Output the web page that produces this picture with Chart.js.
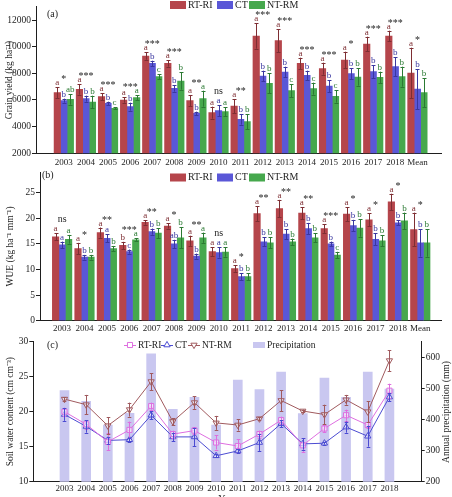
<!DOCTYPE html>
<html><head><meta charset="utf-8">
<script src="https://cdn.jsdelivr.net/npm/chart.js@4.4.1/dist/chart.umd.min.js"></script>
<style>
html,body{margin:0;padding:0;background:#fff;width:452px;height:497px;overflow:hidden}
.p{position:absolute;left:0;width:452px}
canvas{display:block}
</style></head><body>
<div class="p" style="top:0;height:170px"><canvas id="ca" width="452" height="170"></canvas></div>
<div class="p" style="top:165px;height:170px"><canvas id="cb" width="452" height="170"></canvas></div>
<div class="p" style="top:333px;height:172px"><canvas id="cc" width="452" height="172"></canvas></div>
<script>
// ---------- shared ----------
const categories = ['2003','2004','2005','2006','2007','2008','2009','2010','2011','2012','2013','2014','2015','2016','2017','2018','Mean'];
const treatments = ['RT-RI','CT','NT-RM'];
const barColors = ['#b5454b','#5a57d7','#46a84d'];
const markColors = ['#7e2e33','#3a37a0','#2b7a33'];

// ---------- (a) grain yield ----------
const yieldRT = [6550,6800,6250,6000,9300,8750,5950,5050,5550,10800,10450,8750,8350,9000,10200,10800,8025];
const yieldCT = [5950,6100,5750,5500,8750,6875,5000,5200,4550,7800,8100,7850,7050,7975,8125,8500,6825];
const yieldNT = [6050,5850,5375,6175,7750,7425,6100,5125,4375,7250,6700,6850,6275,7725,7700,7750,6550];
const yieldErrRT = [400,400,250,200,275,250,425,450,525,950,850,425,450,625,550,400,1900];
const yieldErrCT = [150,225,125,300,200,250,125,425,400,400,400,350,450,400,500,700,1500];
const yieldErrNT = [400,475,75,175,200,650,600,325,575,750,500,450,475,650,425,750,1100];
const yieldLetRT = ['a','a','a','a','a','a','a','a','a','a','a','a','a','a','a','a','a'];
const yieldLetCT = ['b','b','b','b','b','b','b','a','b','b','b','b','b','b','b','b','b'];
const yieldLetNT = ['ab','b','c','a','c','b','a','a','b','b','c','c','c','b','b','b','b'];
const yieldSig = ['*','***','***','***','***','***','**','ns','**','***','***','***','***','*','***','***','*'];
const yieldTicks = [2000,4000,6000,8000,10000,12000];

// ---------- (b) WUE ----------
const wueRT = [16.4,14.1,17.2,14.7,19.2,18.5,15.6,13.5,10.2,20.9,21.9,21.0,18.0,20.8,19.7,23.2,17.8];
const wueCT = [14.8,12.4,16.1,13.5,17.4,15.0,12.6,13.3,8.6,15.4,16.9,18.0,15.0,18.6,15.9,19.1,15.2];
const wueNT = [15.9,12.4,14.1,15.8,17.1,16.2,16.2,13.4,8.6,15.2,15.4,16.2,12.8,18.1,15.6,19.5,15.2];
const wueErrRT = [0.65,1.1,1.0,0.7,0.45,0.5,1.0,0.85,0.65,1.5,1.7,1.2,0.85,1.4,1.3,1.6,3.3];
const wueErrCT = [0.65,0.45,0.8,0.4,0.6,0.8,0.5,1.0,0.65,0.9,1.0,1.1,0.45,1.1,1.2,0.5,2.7];
const wueErrNT = [0.85,0.45,0.5,0.3,1.0,2.1,1.0,0.9,0.65,1.05,0.65,0.85,0.65,1.7,1.1,1.6,2.7];
const wueLetRT = ['a','a','a','b','a','a','a','a','a','a','a','a','a','a','a','a','a'];
const wueLetCT = ['a','b','a','c','b','ab','b','a','b','b','b','b','b','b','b','b','b'];
const wueLetNT = ['a','b','b','a','b','b','a','a','b','b','b','b','c','b','b','b','b'];
const wueSig = ['ns','*','**','***','**','*','**','ns','*','**','**','**','***','*','*','*','*'];
const wueTicks = [0,5,10,15,20,25];

// ---------- (c) soil water & precipitation ----------
const years = [2003,2004,2005,2006,2007,2008,2009,2010,2011,2012,2013,2014,2015,2016,2017,2018];
const precip = [493,458,382,420,611,433,471,382,527,496,552,419,533,471,552,498];
const swcRT = [20.0,18.2,15.7,17.4,20.8,16.8,17.3,15.6,15.1,16.8,18.8,15.2,17.6,19.5,18.1,23.0];
const swcCT = [19.6,17.9,15.9,16.0,19.5,16.4,16.4,13.7,14.4,15.6,18.3,15.4,15.5,17.8,16.5,22.1];
const swcNT = [21.8,21.0,18.0,20.3,24.3,18.6,21.3,18.4,18.1,19.0,21.6,20.1,19.6,21.7,20.0,27.3];
const swcErrRT = [0.6,0.6,1.2,1.2,0.5,0.5,0.5,1.0,1.0,0.5,0.5,1.0,0.5,0.8,0.4,1.0];
const swcErrCT = [0.9,0.9,0.5,0.3,0.6,0.6,1.3,0.2,0.3,1.2,0.5,0.8,0.2,0.8,1.5,0.6];
const swcErrNT = [0.3,1.4,1.2,1.0,1.2,0.5,0.9,1.0,0.8,0.2,1.5,0.2,1.4,0.7,1.5,1.5];
const swcTicks = [10,15,20,25,30];
const precipTicks = [200,300,400,500,600];
const lineColors = ['#de6ee0','#4b4bd2','#a05a5e'];
const precipColor = '#c9c7f0';

const SERIF = '"Liberation Serif", "Times New Roman", serif';
const INK = '#1e1e1e';

// ---------- plugin: error bars, letters, significance, legends ----------
const annot = {
  id: 'annot',
  afterDatasetsDraw(chart, args, opts) {
    const ctx = chart.ctx;
    const tops = [];
    chart.data.datasets.forEach((ds, di) => {
      if (!ds.errors) return;
      const meta = chart.getDatasetMeta(di);
      const ys = chart.scales[meta.yAxisID];
      ctx.save();
      ctx.strokeStyle = ds.errorColor; ctx.lineWidth = 1;
      const cap = ds.errorCap;
      meta.data.forEach((el, i) => {
        const raw = ds.data[i];
        const v = typeof raw === 'object' ? raw.y : raw;
        const e = ds.errors[i];
        const x = Math.round(el.x) + 0.5;
        const yt = ys.getPixelForValue(v + e), yb = ys.getPixelForValue(v - e);
        ctx.beginPath();
        ctx.moveTo(x, yt); ctx.lineTo(x, yb);
        ctx.moveTo(x - cap, Math.round(yt) + 0.5); ctx.lineTo(x + cap, Math.round(yt) + 0.5);
        ctx.moveTo(x - cap, Math.round(yb) + 0.5); ctx.lineTo(x + cap, Math.round(yb) + 0.5);
        ctx.stroke();
        if (ds.letters) {
          ctx.fillStyle = ds.errorColor;
          ctx.font = opts.letterFont; ctx.textAlign = 'center'; ctx.textBaseline = 'alphabetic';
          ctx.fillText(ds.letters[i], el.x, yt - 2);
          tops[i] = Math.min(tops[i] === undefined ? Infinity : tops[i], yt);
        }
      });
      ctx.restore();
    });
    if (opts.sig) {
      const xs = chart.scales.x;
      ctx.save(); ctx.fillStyle = INK; ctx.font = opts.sigFont;
      ctx.textAlign = 'center'; ctx.textBaseline = 'alphabetic';
      opts.sig.forEach((s, i) => {
        const x = xs.getPixelForValue(i);
        const letterTop = tops[i] - 2 - 7;
        const y = s === 'ns' ? letterTop - 2 : letterTop + 4;
        ctx.fillText(s, x, y);
      });
      ctx.restore();
    }
  },
  afterDraw(chart, args, opts) {
    const ctx = chart.ctx;
    ctx.save();
    ctx.fillStyle = INK; ctx.textBaseline = 'middle'; ctx.textAlign = 'left';
    if (opts.panel) {
      ctx.font = opts.panelFont;
      ctx.fillText(opts.panel.text, opts.panel.x, opts.panel.y);
    }
    if (opts.legend) {
      const L = opts.legend;
      ctx.font = L.font;
      L.items.forEach(it => {
        const ds = chart.data.datasets[it.dataset];
        if (it.kind === 'box') {
          ctx.fillStyle = ds.backgroundColor;
          ctx.fillRect(it.x, L.y - it.h / 2, it.w, it.h);
          ctx.fillStyle = INK;
          ctx.fillText(ds.label, it.x + it.w + 2, L.y);
        } else {
          ctx.strokeStyle = ds.borderColor; ctx.lineWidth = 1;
          ctx.beginPath(); ctx.moveTo(it.x, L.y + 0.5); ctx.lineTo(it.x + 12, L.y + 0.5); ctx.stroke();
          ctx.fillStyle = '#fff';
          Chart.helpers.drawPoint(ctx, {pointStyle: ds.pointStyle, radius: ds.pointRadius, rotation: ds.pointRotation || 0, borderWidth: 1}, it.x + 6, L.y);
          ctx.fillStyle = INK;
          ctx.fillText(ds.label, it.x + 14, L.y);
        }
      });
    }
    if (opts.rightTitle) {
      const R = opts.rightTitle;
      ctx.font = R.font; ctx.fillStyle = INK; ctx.textAlign = 'center';
      ctx.translate(R.x, R.y); ctx.rotate(-Math.PI / 2);
      ctx.fillText(R.text, 0, 0);
    }
    ctx.restore();
  }
};

const tickFont = {family: SERIF, size: 9.5};
const xTickFont = {family: SERIF, size: 9};
function yAxis(min, max, ticks, width, title, titlePad) {
  return {
    min, max,
    afterBuildTicks: s => { s.ticks = ticks.map(v => ({value: v})); },
    afterFit: s => { s.width = width; },
    ticks: {font: tickFont, color: INK, padding: 1, callback: v => String(v)},
    grid: {drawOnChartArea: false, drawTicks: true, tickLength: 4, color: INK},
    border: {display: true, color: INK},
    title: {display: true, text: title, font: {family: SERIF, size: 9.5}, color: INK, padding: {top: titlePad, bottom: 0}}
  };
}
function xCatAxis(min, max, height, pad) {
  return {
    type: 'linear', min, max,
    afterBuildTicks: s => { s.ticks = categories.map((c, i) => ({value: i})); },
    afterFit: s => { s.height = height; },
    ticks: {font: xTickFont, color: INK, padding: pad, autoSkip: false, maxRotation: 0, callback: v => categories[v]},
    grid: {display: false, drawTicks: false},
    border: {display: true, color: INK}
  };
}
function barSets(vals, errs, lets) {
  return vals.map((arr, k) => ({
    label: treatments[k],
    data: arr.map((v, i) => ({x: i, y: v})),
    backgroundColor: barColors[k],
    borderWidth: 0,
    barThickness: 6.5,
    errors: errs[k], letters: lets[k], errorColor: markColors[k], errorCap: 2
  }));
}
const barLegend = (y) => ({
  y, font: '10px ' + SERIF,
  items: [{dataset: 0, kind: 'box', x: 170, w: 16, h: 8}, {dataset: 1, kind: 'box', x: 217, w: 16, h: 8}, {dataset: 2, kind: 'box', x: 249, w: 16, h: 8}]
});

// ---------- chart (a) ----------
new Chart(document.getElementById('ca'), {
  type: 'bar',
  data: {datasets: barSets([yieldRT, yieldCT, yieldNT], [yieldErrRT, yieldErrCT, yieldErrNT], [yieldLetRT, yieldLetCT, yieldLetNT])},
  options: {
    responsive: false, animation: false, events: [],
    layout: {padding: {top: 6.7, right: 10.5, left: 0, bottom: 0}},
    scales: {
      x: xCatAxis(-0.72, 16.55, 16.7, 3.5),
      y: yAxis(2000, 13000, yieldTicks, 36, 'Grain yield (kg ha⁻¹)', 3.5)
    },
    plugins: {
      legend: {display: false}, tooltip: {enabled: false},
      annot: {letterFont: '9px ' + SERIF, sigFont: '10px ' + SERIF, sig: yieldSig,
              panel: {text: '(a)', x: 47, y: 14.5}, panelFont: '10px ' + SERIF, legend: barLegend(5)}
    }
  },
  plugins: [annot]
});

// ---------- chart (b) ----------
new Chart(document.getElementById('cb'), {
  type: 'bar',
  data: {datasets: barSets([wueRT, wueCT, wueNT], [wueErrRT, wueErrCT, wueErrNT], [wueLetRT, wueLetCT, wueLetNT])},
  options: {
    responsive: false, animation: false, events: [],
    layout: {padding: {top: 7.2, right: 10.3, left: 0, bottom: 0}},
    scales: {
      x: xCatAxis(-0.46, 16.43, 14.3, 2.6),
      y: yAxis(0, 29, wueTicks, 40, 'WUE (kg ha⁻¹ mm⁻¹)', 4.5)
    },
    plugins: {
      legend: {display: false}, tooltip: {enabled: false},
      annot: {letterFont: '9px ' + SERIF, sigFont: '10px ' + SERIF, sig: wueSig,
              panel: {text: '(b)', x: 42, y: 10}, panelFont: '10px ' + SERIF, legend: barLegend(12.5)}
    }
  },
  plugins: [annot]
});

// ---------- chart (c) ----------
const pointStyles = ['rect', 'triangle', 'triangle'];
const pointRot = [0, 0, 180];
const swcVals = [swcRT, swcCT, swcNT];
const swcErrs = [swcErrRT, swcErrCT, swcErrNT];
const lineSets = swcVals.map((arr, k) => ({
  type: 'line', label: treatments[k], yAxisID: 'y', order: 1,
  data: arr.map((v, i) => ({x: years[i], y: v})),
  borderColor: lineColors[k], borderWidth: 1,
  pointStyle: pointStyles[k], pointRotation: pointRot[k], pointRadius: 3.6,
  pointBorderColor: lineColors[k], pointBackgroundColor: 'rgba(255,255,255,0.55)', pointBorderWidth: 1,
  errors: swcErrs[k], errorColor: lineColors[k], errorCap: 1.8
}));
new Chart(document.getElementById('cc'), {
  type: 'bar',
  data: {datasets: [
    {type: 'bar', label: 'Precipitation', yAxisID: 'y1', order: 10,
     data: precip.map((v, i) => ({x: years[i], y: v})), backgroundColor: precipColor, borderWidth: 0, barThickness: 9},
    ...lineSets
  ]},
  options: {
    responsive: false, animation: false, events: [],
    layout: {padding: {top: 8.7, right: 0, left: 0, bottom: 0}},
    scales: {
      x: {
        type: 'linear', min: 2002.12, max: 2018.93,
        afterBuildTicks: s => { s.ticks = years.map(v => ({value: v})); },
        afterFit: s => { s.height = 172 - 148.7; },
        ticks: {font: xTickFont, color: INK, padding: 1.5, autoSkip: false, maxRotation: 0, callback: v => String(v)},
        grid: {display: false, drawTicks: false},
        border: {display: true, color: INK},
        title: {display: true, text: 'Year', font: {family: SERIF, size: 10}, color: INK, padding: {top: 0, bottom: 0}}
      },
      y: yAxis(10, 30, swcTicks, 33.3, 'Soil water content (cm cm⁻³)', 5),
      y1: {
        position: 'right', min: 200, max: 650,
        afterBuildTicks: s => { s.ticks = precipTicks.map(v => ({value: v})); },
        afterFit: s => { s.width = 452 - 421.7; },
        ticks: {font: tickFont, color: INK, padding: 1, callback: v => String(v)},
        grid: {drawOnChartArea: false, drawTicks: true, tickLength: 3, color: INK},
        border: {display: true, color: INK}
      }
    },
    plugins: {
      legend: {display: false}, tooltip: {enabled: false},
      annot: {
        panel: {text: '(c)', x: 47, y: 12.5}, panelFont: '10px ' + SERIF,
        legend: {y: 12, font: '9.5px ' + SERIF, items: [
          {dataset: 1, kind: 'line', x: 124}, {dataset: 2, kind: 'line', x: 161}, {dataset: 3, kind: 'line', x: 188},
          {dataset: 0, kind: 'box', x: 253, w: 12, h: 6}
        ]},
        rightTitle: {text: 'Annual precipitation (mm)', x: 446, y: 79, font: '9.5px ' + SERIF}
      }
    }
  },
  plugins: [annot]
});
</script>
</body></html>
